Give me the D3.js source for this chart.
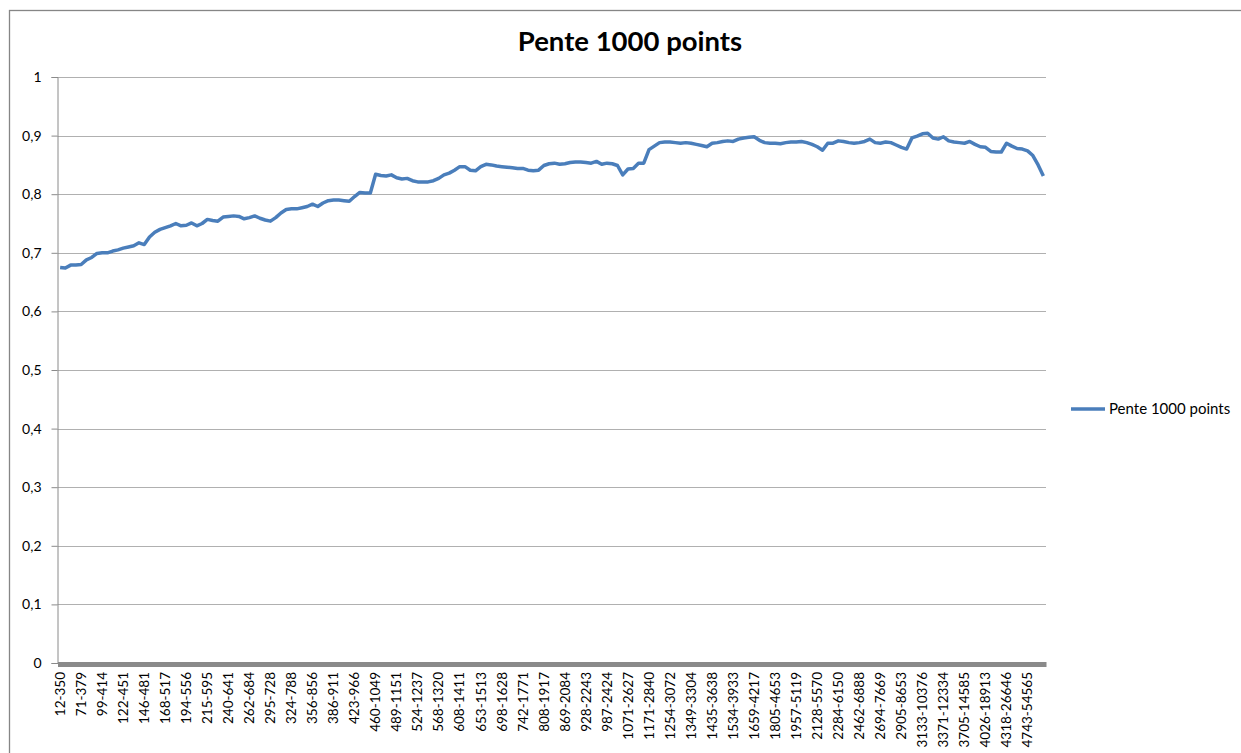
<!DOCTYPE html>
<meta charset="utf-8">

<!-- Load d3.js -->
<script src="https://d3js.org/d3.v7.min.js"></script>

<style>
    body {
        margin: 0;
        background: #fff;
    }

    #my_dataviz text {
        font-family: Lato, "Open Sans", Arial, sans-serif;
        fill: #000;
    }
</style>

<!-- Create a div where the graph will take place -->
<div id="my_dataviz"></div>

<script>

    // tick labels of the category axis (one label every 4 categories)
    var labels = ["12-350", "71-379", "99-414", "122-451", "146-481", "168-517", "194-556", "215-595",
        "240-641", "262-684", "295-728", "324-788", "356-856", "386-911", "423-966", "460-1049",
        "489-1151", "524-1237", "568-1320", "608-1411", "653-1513", "698-1628", "742-1771", "808-1917",
        "869-2084", "928-2243", "987-2424", "1071-2627", "1171-2840", "1254-3072", "1349-3304", "1435-3638",
        "1534-3933", "1659-4217", "1805-4653", "1957-5119", "2128-5570", "2284-6150", "2462-6888", "2694-7669",
        "2905-8653", "3133-10376", "3371-12334", "3705-14585", "4026-18913", "4318-26646", "4743-54565"]

    var labelStep = 4

    // series values, one per category
    var pente = [
        0.675, 0.674, 0.679, 0.679, 0.680, 0.688, 0.692, 0.699, 0.700, 0.700,
        0.703, 0.705, 0.708, 0.710, 0.712, 0.717, 0.714, 0.727, 0.735, 0.740,
        0.743, 0.746, 0.750, 0.746, 0.747, 0.751, 0.746, 0.750, 0.757, 0.755,
        0.754, 0.761, 0.762, 0.763, 0.762, 0.758, 0.760, 0.763, 0.759, 0.756,
        0.754, 0.760, 0.768, 0.774, 0.775, 0.775, 0.777, 0.779, 0.783, 0.779,
        0.785, 0.789, 0.790, 0.790, 0.789, 0.788, 0.796, 0.803, 0.802, 0.802,
        0.834, 0.832, 0.831, 0.833, 0.828, 0.826, 0.827, 0.823, 0.821, 0.821,
        0.821, 0.823, 0.827, 0.833, 0.836, 0.841, 0.847, 0.847, 0.841, 0.840,
        0.847, 0.851, 0.850, 0.848, 0.847, 0.846, 0.845, 0.844, 0.844, 0.841,
        0.840, 0.841, 0.849, 0.852, 0.853, 0.851, 0.852, 0.854, 0.855, 0.855,
        0.854, 0.853, 0.856, 0.851, 0.853, 0.852, 0.849, 0.833, 0.843, 0.844,
        0.853, 0.853, 0.876, 0.882, 0.888, 0.889, 0.889, 0.888, 0.887, 0.888,
        0.887, 0.885, 0.883, 0.881, 0.887, 0.888, 0.890, 0.891, 0.890, 0.894,
        0.896, 0.897, 0.898, 0.892, 0.888, 0.887, 0.887, 0.886, 0.888, 0.889,
        0.889, 0.890, 0.888, 0.885, 0.881, 0.875, 0.887, 0.887, 0.891, 0.890,
        0.888, 0.887, 0.888, 0.890, 0.894, 0.888, 0.887, 0.889, 0.888, 0.884,
        0.880, 0.877, 0.896, 0.899, 0.903, 0.904, 0.896, 0.894, 0.898, 0.891,
        0.889, 0.888, 0.887, 0.890, 0.885, 0.881, 0.880, 0.873, 0.872, 0.872,
        0.887, 0.882, 0.878, 0.877, 0.874, 0.866, 0.850, 0.831]

    // y axis ticks, french decimal comma
    var yTicks = [0, 0.1, 0.2, 0.3, 0.4, 0.5, 0.6, 0.7, 0.8, 0.9, 1]
    var yTickLabels = ["0", "0,1", "0,2", "0,3", "0,4", "0,5", "0,6", "0,7", "0,8", "0,9", "1"]

    var title = "Pente 1000 points"
    var seriesName = "Pente 1000 points"

    // set the dimensions and margins of the graph
    var W = 1241, H = 753
    var margin = { top: 77, right: 195, bottom: 90, left: 57.5 },
        width = 1046 - margin.left,
        height = 663 - margin.top;

    var root = d3.select("#my_dataviz")
        .append("svg")
        .attr("width", W)
        .attr("height", H)

    // chart area border (runs off the right and bottom of the picture)
    root.append("rect")
        .attr("x", 9.5)
        .attr("y", 10.5)
        .attr("width", W)
        .attr("height", H)
        .attr("fill", "#fff")
        .attr("stroke", "#868686")
        .attr("stroke-width", 1.3)

    // title
    root.append("text")
        .attr("x", 630)
        .attr("y", 51)
        .attr("text-anchor", "middle")
        .style("font-size", "27.5px")
        .style("font-weight", "bold")
        .text(title)

    var svg = root.append("g")
        .attr("transform", "translate(" + margin.left + "," + margin.top + ")");

    // X scale: one band per category
    var x = d3.scaleBand()
        .domain(d3.range(pente.length))
        .range([0, width])
        .padding(0)

    // Y scale
    var y = d3.scaleLinear()
        .domain([0, 1])
        .range([height, 0]);

    // horizontal gridlines
    svg.append("g")
        .selectAll("line")
        .data(yTicks.slice(1))
        .enter().append("line")
        .attr("x1", 0)
        .attr("x2", width)
        .attr("y1", function (d) { return Math.round(y(d)) + 0.5; })
        .attr("y2", function (d) { return Math.round(y(d)) + 0.5; })
        .attr("stroke", "#b0b0b0")
        .attr("stroke-width", 1)

    // Y axis
    var yAxis = svg.append("g")
        .call(d3.axisLeft(y)
            .tickValues(yTicks)
            .tickFormat(function (d, i) { return yTickLabels[i]; })
            .tickSize(6)
            .tickPadding(10))
    yAxis.select(".domain").attr("stroke", "#8a8a8a")
    yAxis.selectAll(".tick line").attr("stroke", "#8a8a8a")
    yAxis.selectAll("text").style("font-size", "14px")

    // X axis (thick grey bar, rotated labels)
    var xAxis = svg.append("g")
        .attr("transform", "translate(0," + (height + 1) + ")")
        .call(d3.axisBottom(x)
            .tickValues(d3.range(0, pente.length, labelStep))
            .tickFormat(function (d) { return labels[d / labelStep]; })
            .tickSize(0)
            .tickSizeOuter(0))
    xAxis.select(".domain")
        .attr("stroke", "#8a8a8a")
        .attr("stroke-width", 5)
    xAxis.selectAll("text")
        .attr("transform", "rotate(-90)")
        .attr("text-anchor", "end")
        .attr("x", -8)
        .attr("y", 0)
        .attr("dy", "0.35em")
        .style("font-size", "13.5px")

    // the line
    var line = d3.line()
        .x(function (d, i) { return x(i) + x.bandwidth() / 2; })
        .y(function (d) { return y(d); })

    svg.append("path")
        .datum(pente)
        .attr("fill", "none")
        .attr("stroke", "#4a7ebb")
        .attr("stroke-width", 3.5)
        .attr("stroke-linejoin", "round")
        .attr("d", line)

    // legend
    var legend = root.append("g")
        .attr("transform", "translate(1071,409)")
    legend.append("line")
        .attr("x1", 0)
        .attr("x2", 34)
        .attr("stroke", "#4a7ebb")
        .attr("stroke-width", 3.5)
    legend.append("text")
        .attr("x", 38)
        .attr("dy", "0.35em")
        .style("font-size", "15px")
        .text(seriesName)

</script>
